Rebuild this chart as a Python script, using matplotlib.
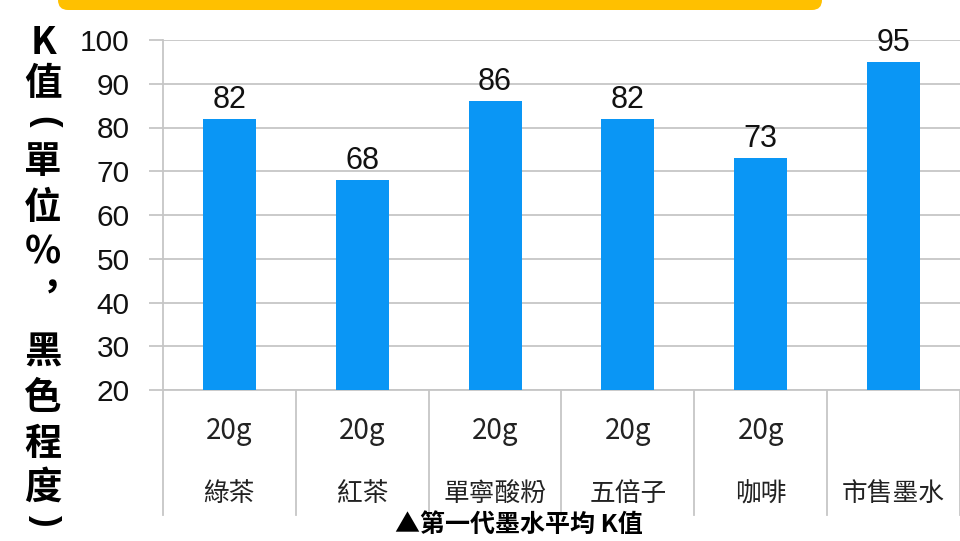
import matplotlib
matplotlib.use("Agg")
import matplotlib.pyplot as plt
from matplotlib.patches import FancyBboxPatch

# ---- data ----
categories = ["綠茶", "紅茶", "單寧酸粉", "五倍子", "咖啡", "市售墨水"]
amounts = ["20g", "20g", "20g", "20g", "20g", ""]
k_values = [82, 68, 86, 82, 73, 95]
y_ticks = [20, 30, 40, 50, 60, 70, 80, 90, 100]
ylabel_chars = ["K", "值", "(", "單", "位", "%", "︐", "黑", "色", "程", "度", ")"]
caption = "▲第一代墨水平均 K值"

CJK = ["Noto Sans CJK TC", "DejaVu Sans"]
LATIN = ["Liberation Sans", "DejaVu Sans"]
BAR = "#0A96F5"
GRID = "#C6C6C6"

W, H = 960, 541
fig = plt.figure(figsize=(W / 100, H / 100), dpi=100)
fig.patch.set_facecolor("white")


def fx(px):
    return px / W


def fy(py):
    return 1 - py / H


ax = fig.add_axes([fx(163), fy(390), fx(960) - fx(163), fy(40) - fy(390)])
x = list(range(len(categories)))
ax.bar(x, k_values, width=0.4, color=BAR, zorder=3)
ax.set_xlim(-0.5, len(categories) - 0.5)
ax.set_ylim(y_ticks[0], y_ticks[-1])
ax.set_yticks(y_ticks)
ax.set_yticklabels([str(t) for t in y_ticks], family=LATIN, fontsize=21.5)
ax.yaxis.grid(True, color=GRID, lw=1.3, zorder=0)
ax.tick_params(axis="y", length=10, width=1.3, color=GRID, pad=14,
               labelcolor="#111111")
ax.set_xticks([])
for s in ["top", "right"]:
    ax.spines[s].set_visible(False)
ax.spines["left"].set_color(GRID)
ax.spines["left"].set_linewidth(1.3)
ax.spines["bottom"].set_color(GRID)
ax.spines["bottom"].set_linewidth(1.3)

# value labels
for i, v in enumerate(k_values):
    ax.annotate(str(v), (i, v), xytext=(0, 3), textcoords="offset points",
                ha="center", va="bottom", family=LATIN, fontsize=22,
                color="#111111", zorder=4)

# two-level category axis
tr = ax.get_xaxis_transform()
depth = -125 / 350
for b in [i - 0.5 for i in range(len(categories) + 1)]:
    ax.plot([b, b], [0, depth], transform=tr, clip_on=False,
            color=GRID, lw=1.3)
for i, (a, c) in enumerate(zip(amounts, categories)):
    if a:
        ax.text(i, -41 / 350, a, transform=tr, ha="center", va="center",
                family=CJK, fontsize=20, color="#222222")
    ax.text(i, -104 / 350, c, transform=tr, ha="center", va="center",
            family=CJK, fontsize=18.5, color="#222222")

# stacked vertical axis title (brackets turned sideways for vertical text)
ylabel_y = [43, 84, 122, 161, 208, 252, 300, 352, 397, 443, 487, 521]
for ch, yy in zip(ylabel_chars, ylabel_y):
    if ch in "()":
        fig.text(fx(44), fy(yy), ch, ha="center", va="center", family=LATIN,
                 fontsize=25, fontweight="bold", rotation=-90,
                 rotation_mode="anchor", color="black")
    else:
        fig.text(fx(43), fy(yy), ch, ha="center", va="center", family=CJK,
                 fontsize=27, fontweight="bold", color="black")

# caption under the chart
fig.text(fx(519), fy(513), caption, ha="center", va="top", family=CJK,
         fontsize=18, fontweight="bold", color="black")

# yellow banner along the top edge
banner = FancyBboxPatch((0.58, 5.31), 8.22 - 0.58, 0.5,
                        boxstyle="round,pad=0,rounding_size=0.1",
                        transform=fig.dpi_scale_trans, facecolor="#FFC000",
                        edgecolor="none", clip_on=False)
fig.patches.append(banner)

fig.savefig("out.png", dpi=100)
